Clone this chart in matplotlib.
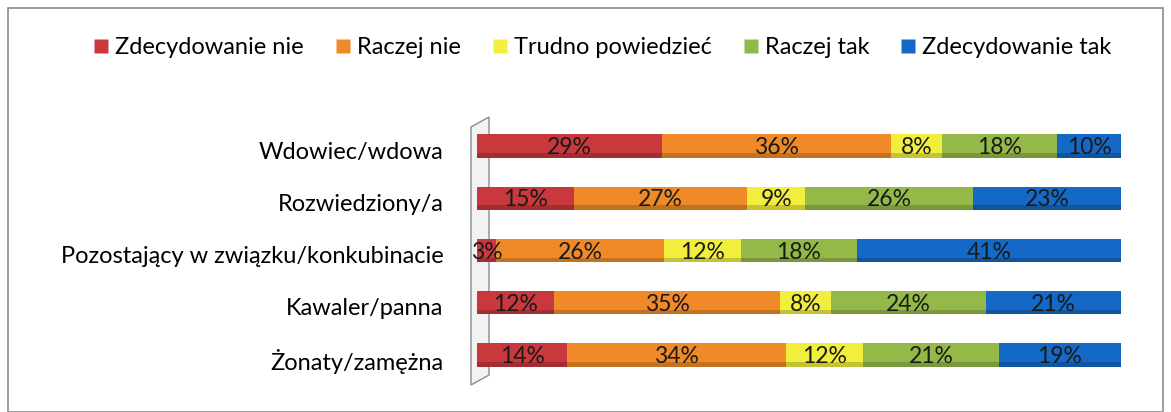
import numpy as np
import matplotlib
matplotlib.use("Agg")
import matplotlib.pyplot as plt
import matplotlib.patches as patches
from matplotlib.lines import Line2D

# ---------------------------------------------------------------------------
# Data (percentages, top row first)
# ---------------------------------------------------------------------------
categories = [
    "Wdowiec/wdowa",
    "Rozwiedziony/a",
    "Pozostający w związku/konkubinacie",
    "Kawaler/panna",
    "Żonaty/zamężna",
]
series_names = [
    "Zdecydowanie nie",
    "Raczej nie",
    "Trudno powiedzieć",
    "Raczej tak",
    "Zdecydowanie tak",
]
zdecydowanie_nie = [29, 15, 3, 12, 14]
raczej_nie = [36, 27, 26, 35, 34]
trudno = [8, 9, 12, 8, 12]
raczej_tak = [18, 26, 18, 24, 21]
zdecydowanie_tak = [10, 23, 41, 21, 19]

colors = ["#C8383C", "#F08A28", "#F2EE3E", "#94B948", "#1468C6"]

FONT = ["Lato", "DejaVu Sans"]

# ---------------------------------------------------------------------------
# Figure
# ---------------------------------------------------------------------------
fig = plt.figure(figsize=(11.71, 4.12), dpi=100)
W, H = 1171, 412

# outer frame
fig.patches.append(patches.Rectangle(
    (8 / W, 0.0), (1163 - 8) / W, 1 - 8 / H,
    transform=fig.transFigure, fill=False, edgecolor="#8C8C8C", linewidth=1.2,
))

# 3-D wall at the left of the plot
wall = patches.Polygon(
    [(471 / W, 1 - 385 / H), (471 / W, 1 - 127 / H),
     (489 / W, 1 - 117 / H), (489 / W, 1 - 375 / H)],
    closed=True, transform=fig.transFigure,
    facecolor="#F2F2F2", edgecolor="#8C8C8C", linewidth=1.0, zorder=-1,
)
fig.patches.append(wall)

ax = fig.add_axes([477 / W, 1 - 381 / H, (1121 - 477) / W, (381 - 120) / H])
ax.patch.set_alpha(0)

data = np.array([zdecydowanie_nie, raczej_nie, trudno, raczej_tak, zdecydowanie_tak], dtype=float)
totals = data.sum(axis=0)
shares = data / totals

y = np.arange(len(categories))[::-1]
left = np.zeros(len(categories))
for i, name in enumerate(series_names):
    ax.barh(y, shares[i], left=left, height=0.45, color=colors[i],
            edgecolor="none", label=name)
    # darker bottom edge for a bit of depth
    ax.barh(y - 0.18, shares[i], left=left, height=0.09, color="black",
            alpha=0.18, edgecolor="none")
    for yy, l, s, v in zip(y, left, shares[i], data[i]):
        ax.text(l + s / 2, yy - 0.03, f"{int(v)}%", ha="center", va="center",
                fontsize=16.5, family=FONT, color="#1A1A1A")
    left += shares[i]

ax.set_xlim(0, 1)
ax.set_ylim(-0.5, 4.5)
ax.set_yticks(y - 0.08)
ax.set_yticklabels(categories, fontsize=17, family=FONT)
ax.tick_params(axis="y", length=0, pad=24)
ax.set_xticks([])
for spine in ax.spines.values():
    spine.set_visible(False)

# legend
handles = [Line2D([], [], marker="s", linestyle="none", markersize=10,
                  markerfacecolor=c, markeredgecolor="none") for c in colors]
fig.legend(handles, series_names, loc="center", bbox_to_anchor=(601 / W, 1 - 48 / H),
           ncol=5, frameon=False, prop={"family": FONT, "size": 17},
           handletextpad=0.15, columnspacing=1.2, handlelength=0.9)

fig.savefig("out.png", dpi=100)
